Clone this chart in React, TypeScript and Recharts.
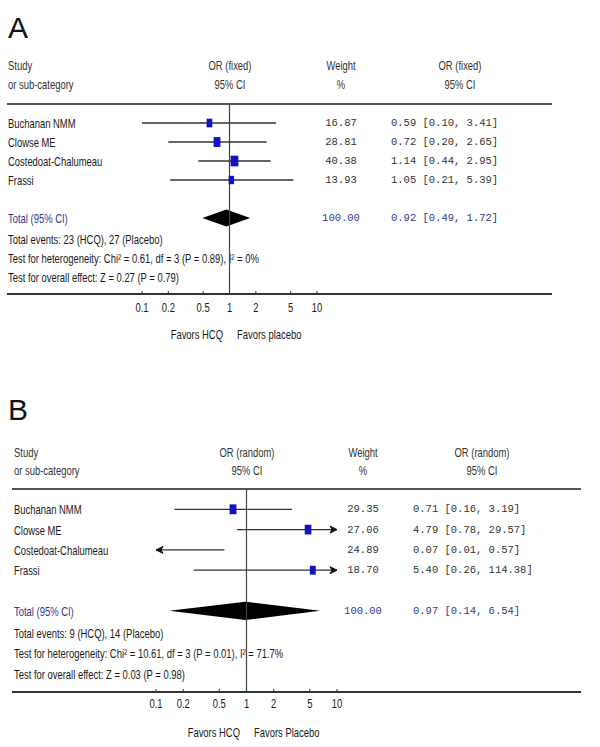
import React from 'react';
import { ComposedChart, XAxis, YAxis, Scatter, ReferenceLine, ReferenceArea } from 'recharts';

// shared
const studies = ['Buchanan NMM', 'Clowse ME', 'Costedoat-Chalumeau', 'Frassi'];
const axisTicks = [0.1, 0.2, 0.5, 1, 2, 5, 10];
const AXIS_MIN = 0.1;
const AXIS_MAX = 10;

// panel A - fixed effect
const weightA = [16.87, 28.81, 40.38, 13.93];
const orA = [0.59, 0.72, 1.14, 1.05];
const lowA = [0.1, 0.2, 0.44, 0.21];
const highA = [3.41, 2.65, 2.95, 5.39];
const totalA = [100.0, 0.92, 0.49, 1.72]; // weight, OR, low, high
const notesA = [
  'Total events: 23 (HCQ), 27 (Placebo)',
  'Test for heterogeneity: Chi² = 0.61, df = 3 (P = 0.89), I² = 0%',
  'Test for overall effect: Z = 0.27 (P = 0.79)',
];
const favorsA = ['Favors HCQ', 'Favors placebo'];

// panel B - random effects
const weightB = [29.35, 27.06, 24.89, 18.7];
const orB = [0.71, 4.79, 0.07, 5.4];
const lowB = [0.16, 0.78, 0.01, 0.26];
const highB = [3.19, 29.57, 0.57, 114.38];
const totalB = [100.0, 0.97, 0.14, 6.54];
const notesB = [
  'Total events: 9 (HCQ), 14 (Placebo)',
  'Test for heterogeneity: Chi² = 10.61, df = 3 (P = 0.01), I² = 71.7%',
  'Test for overall effect: Z = 0.03 (P = 0.98)',
];
const favorsB = ['Favors HCQ', 'Favors Placebo'];

// no narrow face installed, so squeeze Liberation Sans instead
const SANS = '"Liberation Sans", Arial, sans-serif';
const SANS_SIZE = 13;
const SQUEEZE = 0.725;
const MONO = '"Liberation Mono", "DejaVu Sans Mono", monospace';
const NAVY = '#35358c';

type Layout = {
  letter: string;
  model: string;
  letterY: number;
  head1: number;
  head2: number;
  ruleY: number;
  axisY: number;
  ruleL: number;
  ruleR: number;
  plotL: number;
  plotR: number;
  textL: number;
  weightX: number;
  orX: number;
  orHeadX: number;
  tickDy: number;
  favorsY: number;
};

const layoutA: Layout = {
  letter: 'A', model: 'fixed', letterY: 28, head1: 65, head2: 84, ruleY: 104, axisY: 294,
  ruleL: 7, ruleR: 552, plotL: 142, plotR: 317, textL: 8, weightX: 341, orX: 391,
  orHeadX: 460, tickDy: 13, favorsY: 334,
};

const layoutB: Layout = {
  letter: 'B', model: 'random', letterY: 410, head1: 452, head2: 470, ruleY: 489, axisY: 692,
  ruleL: 12, ruleR: 581, plotL: 156, plotR: 337, textL: 14, weightX: 363, orX: 413,
  orHeadX: 482, tickDy: 11, favorsY: 732,
};

type TextProps = {
  x: number;
  y: number;
  children: React.ReactNode;
  align?: 'left' | 'center' | 'right';
  mono?: boolean;
  color?: string;
};

function Txt({ x, y, children, align = 'left', mono = false, color = '#1a1a1a' }: TextProps) {
  const tx = align === 'left' ? '0' : align === 'center' ? '-50%' : '-100%';
  const origin = align === 'left' ? '0%' : align === 'center' ? '50%' : '100%';
  return (
    <div
      style={{
        position: 'absolute', left: x, top: y,
        transform: mono ? `translate(${tx}, -50%)` : `translate(${tx}, -50%) scaleX(${SQUEEZE})`,
        transformOrigin: `${origin} 50%`,
        whiteSpace: 'nowrap', fontFamily: mono ? MONO : SANS, fontSize: mono ? 10.5 : SANS_SIZE,
        lineHeight: 1, color,
      }}
    >
      {children}
    </div>
  );
}

const fmtCI = (o: number, l: number, h: number) => `${o.toFixed(2)} [${l.toFixed(2)}, ${h.toFixed(2)}]`;

const tickShape = (dy: number) => (p: any) => (
  <g>
    <line x1={p.x} x2={p.x} y1={p.y - 3} y2={p.y + 1} stroke="#333" />
    <text
      transform={`translate(${p.x},${p.y + dy}) scale(${SQUEEZE},1)`}
      textAnchor="middle" dominantBaseline="central" fontSize={SANS_SIZE} fontFamily={SANS} fill="#1a1a1a"
    >
      {p.payload.value}
    </text>
  </g>
);

// CI line, with an arrow where the interval runs off the axis
const ciShape = (leftArrow: boolean, rightArrow: boolean) => (p: any) => {
  const { x1, x2, y1 } = p;
  const a = 7;
  const h = 3.5;
  return (
    <g>
      <line x1={x1} x2={x2} y1={y1} y2={y1} stroke="#333" strokeWidth={1.3} />
      {rightArrow && (
        <polygon points={`${x2},${y1} ${x2 - a},${y1 - h} ${x2 - a + 2},${y1} ${x2 - a},${y1 + h}`} fill="#111" stroke="#111" />
      )}
      {leftArrow && (
        <polygon points={`${x1},${y1} ${x1 + a},${y1 - h} ${x1 + a - 2},${y1} ${x1 + a},${y1 + h}`} fill="#111" stroke="#111" />
      )}
    </g>
  );
};

const diamondShape = (frac: number) => (p: any) => {
  const { x, y, width, height } = p;
  const cx = x + width * frac;
  const cy = y + height / 2;
  return <polygon points={`${x},${cy} ${cx},${y} ${x + width},${cy} ${cx},${y + height}`} fill="#000" />;
};

const square = (p: any) => {
  const s = Math.sqrt(p.payload.w);
  const w = 0.9 * s + 2;
  const h = 0.9 * s + 5;
  return <rect x={p.cx - w / 2} y={p.cy - h / 2} width={w} height={h} fill="#1212c4" />;
};

type PanelProps = {
  L: Layout;
  weight: number[];
  or: number[];
  low: number[];
  high: number[];
  total: number[];
  notes: string[];
  favors: string[];
};

function Panel({ L, weight, or, low, high, total, notes, favors }: PanelProps) {
  const plotH = L.axisY - L.ruleY;
  const rowPx = (r: number) => L.ruleY + (plotH * r) / 10;
  const midX = (L.plotL + L.plotR) / 2;
  const clip = (v: number) => Math.min(AXIS_MAX, Math.max(AXIS_MIN, v));
  const points = or
    .map((o, i) => ({ x: o, y: i + 1, w: weight[i] }))
    .filter((d) => d.x >= AXIS_MIN && d.x <= AXIS_MAX);
  const [tW, tOr, tLo, tHi] = total;
  const frac = (Math.log(tOr) - Math.log(tLo)) / (Math.log(tHi) - Math.log(tLo));

  return (
    <>
      <div style={{ position: 'absolute', left: 8, top: L.letterY, transform: 'translateY(-50%)', fontFamily: SANS, fontSize: 30, lineHeight: 1, color: '#111' }}>
        {L.letter}
      </div>

      <Txt x={L.textL} y={L.head1} color="#333">Study</Txt>
      <Txt x={L.textL} y={L.head2} color="#333">or sub-category</Txt>
      <Txt x={midX} y={L.head1} align="center" color="#333">{`OR (${L.model})`}</Txt>
      <Txt x={midX} y={L.head2} align="center" color="#333">95% CI</Txt>
      <Txt x={L.weightX} y={L.head1} align="center" color="#333">Weight</Txt>
      <Txt x={L.weightX} y={L.head2} align="center" color="#333">%</Txt>
      <Txt x={L.orHeadX} y={L.head1} align="center" color="#333">{`OR (${L.model})`}</Txt>
      <Txt x={L.orHeadX} y={L.head2} align="center" color="#333">95% CI</Txt>

      <div style={{ position: 'absolute', left: L.ruleL, top: L.ruleY - 1, width: L.ruleR - L.ruleL, height: 2, background: '#555' }} />
      <div style={{ position: 'absolute', left: L.ruleL, top: L.axisY - 1, width: L.ruleR - L.ruleL, height: 2, background: '#333' }} />

      {studies.map((s, i) => (
        <React.Fragment key={s}>
          <Txt x={L.textL} y={rowPx(i + 1)}>{s}</Txt>
          <Txt x={L.weightX} y={rowPx(i + 1)} align="center" mono color="#333">{weight[i].toFixed(2)}</Txt>
          <Txt x={L.orX} y={rowPx(i + 1)} mono color="#333">{fmtCI(or[i], low[i], high[i])}</Txt>
        </React.Fragment>
      ))}
      <Txt x={L.textL} y={rowPx(6)} color={NAVY}>Total (95% CI)</Txt>
      <Txt x={L.weightX} y={rowPx(6)} align="center" mono color={NAVY}>{tW.toFixed(2)}</Txt>
      <Txt x={L.orX} y={rowPx(6)} mono color={NAVY}>{fmtCI(tOr, tLo, tHi)}</Txt>
      {notes.map((n, i) => (
        <Txt key={n} x={L.textL} y={rowPx(7.1 + i)}>{n}</Txt>
      ))}

      <Txt x={midX - 7} y={L.favorsY} align="right">{favors[0]}</Txt>
      <Txt x={midX + 7} y={L.favorsY} align="left">{favors[1]}</Txt>

      <div style={{ position: 'absolute', left: 0, top: L.ruleY }}>
        <ComposedChart width={600} height={plotH + 24} margin={{ top: 0, bottom: 0, left: L.plotL, right: 600 - L.plotR }}>
          <XAxis
            type="number"
            dataKey="x"
            scale="log"
            domain={[AXIS_MIN, AXIS_MAX]}
            ticks={axisTicks}
            allowDataOverflow
            axisLine={false}
            tickLine={false}
            tickSize={0}
            tickMargin={0}
            height={24}
            interval={0}
            tick={tickShape(L.tickDy)}
          />
          <YAxis type="number" dataKey="y" domain={[0, 10]} reversed hide allowDataOverflow />
          <ReferenceLine x={1} stroke="#444" strokeWidth={1.2} />
          {studies.map((s, i) => (
            <ReferenceLine
              key={s}
              segment={[
                { x: clip(low[i]), y: i + 1 },
                { x: clip(high[i]), y: i + 1 },
              ]}
              shape={ciShape(low[i] < AXIS_MIN, high[i] > AXIS_MAX)}
            />
          ))}
          <ReferenceArea x1={tLo} x2={tHi} y1={5.55} y2={6.45} shape={diamondShape(frac)} />
          <Scatter data={points} shape={square} isAnimationActive={false} />
        </ComposedChart>
      </div>
    </>
  );
}

export default function App() {
  return (
    <div style={{ position: 'relative', width: 600, height: 747, background: '#fff', overflow: 'hidden' }}>
      <style>{'body{margin:0}'}</style>
      <Panel L={layoutA} weight={weightA} or={orA} low={lowA} high={highA} total={totalA} notes={notesA} favors={favorsA} />
      <Panel L={layoutB} weight={weightB} or={orB} low={lowB} high={highB} total={totalB} notes={notesB} favors={favorsB} />
    </div>
  );
}
